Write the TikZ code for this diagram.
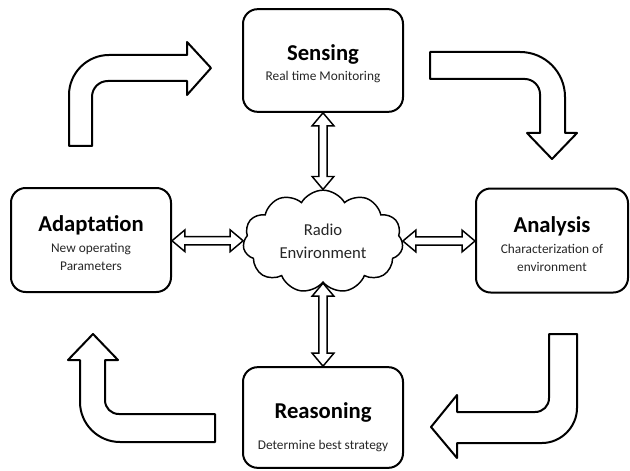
\documentclass[tikz,border=0pt]{standalone}
\usepackage{fontspec}
\setmainfont{Carlito}
\usetikzlibrary{shapes.symbols,shapes.arrows,calc}

\tikzset{every picture/.style={line width=0.75pt}}
\tikzset{
  stage/.style={draw, rounded corners=11pt, line width=1.5pt, align=center, inner sep=0pt,
    font=\fontsize{10}{13.5}\selectfont},
  bent/.style={draw, line width=1.5pt, line join=round},
  link/.style={double arrow, draw, line width=1.1pt, inner sep=2.6pt,
    double arrow head extend=5pt, double arrow tip angle=80, double arrow head indent=0pt}
}
\newcommand{\stagename}[1]{{\fontsize{17}{20}\selectfont\bfseries #1}}
\newcommand{\stagenote}[1]{{\color{black!85}#1}}

\begin{document}
\begin{tikzpicture}[x=0.75pt,y=0.75pt,yscale=-1,xscale=1]
\useasboundingbox (0,0) rectangle (630,470);
%Shape: Rounded Rect [id:sense]
\node (sense) [stage, minimum width=120pt, minimum height=77pt] at (323,60.5)
  {\rule{0pt}{17pt}\stagename{Sensing}\\[1.5pt]\stagenote{Real time Monitoring}};
%Shape: Rounded Rect [id:adapt]
\node (adapt) [stage, minimum width=120pt, minimum height=78pt] at (91,240)
  {\rule{0pt}{17pt}\stagename{Adaptation}\\[2.5pt]\stagenote{New operating}\\\stagenote{Parameters}};
%Shape: Rounded Rect [id:analyse]
\node (analyse) [stage, minimum width=114pt, minimum height=78pt] at (552,240.5)
  {\rule{0pt}{17pt}\stagename{Analysis}\\[2.5pt]\stagenote{Characterization of}\\\stagenote{environment}};
%Shape: Rounded Rect [id:reason]
\node (reason) [stage, minimum width=120pt, minimum height=75.5pt] at (323,417.5)
  {\rule{0pt}{26pt}\stagename{Reasoning}\\[9.5pt]\stagenote{Determine best strategy}};
%Shape: Cloud [id:radio]
\node (radio) [cloud, draw, line width=1.1pt, cloud puffs=11, cloud puff arc=120, aspect=1.55,
  minimum width=120pt, minimum height=77pt, inner sep=0pt, align=center,
  font=\fontsize{12.5}{17}\selectfont, text=black!85] at (323,241.5) {Radio\\Environment};

%Double Arrows
\path let \p1=(sense.south), \p2=(radio.north), \n1={veclen(\x2-\x1,\y2-\y1)} in
  node (up) [link, minimum height=\n1, rotate=90] at ($(\p1)!0.5!(\p2)$) {};
\path let \p1=(radio.south), \p2=(reason.north), \n1={veclen(\x2-\x1,\y2-\y1)} in
  node (down) [link, minimum height=\n1, rotate=90] at ($(\p1)!0.5!(\p2)$) {};
\path let \p1=(adapt.east), \p2=(radio.west), \n1={veclen(\x2-\x1,\y2-\y1)} in
  node (left) [link, minimum height=\n1] at ($(\p1)!0.5!(\p2)$) {};
\path let \p1=(radio.east), \p2=(analyse.west), \n1={veclen(\x2-\x1,\y2-\y1)} in
  node (right) [link, minimum height=\n1] at ($(\p1)!0.5!(\p2)$) {};

%Shape: Bent Arrow, up and right
\draw [bent] (69,146) -- (69,95) .. controls (69,73) and (87,55) .. (109,55) -- (187,55)
  -- (187,42) -- (211,68) -- (187,95) -- (187,81) -- (108,81)
  .. controls (99,81) and (92,88) .. (92,97) -- (92,146) -- cycle ;
%Shape: Bent Arrow, right and down
\draw [bent] (430,52) -- (520,52) .. controls (545,52) and (565,72) .. (565,97) -- (565,133)
  -- (577,133) -- (552,159) -- (527,133) -- (540,133) -- (540,94)
  .. controls (540,86) and (533,79) .. (525,79) -- (430,79) -- cycle ;
%Shape: Bent Arrow, down and left
\draw [bent] (549,334) -- (577,334) -- (577,408) .. controls (577,427) and (561,443) .. (542,443)
  -- (457,443) -- (457,458) -- (431,427) -- (457,395) -- (457,412) -- (535,412)
  .. controls (543,412) and (549,406) .. (549,398) -- cycle ;
%Shape: Bent Arrow, left and up
\draw [bent] (215,414) -- (119,414) .. controls (111,414) and (105,408) .. (105,400) -- (105,360)
  -- (118,360) -- (93,334) -- (68,360) -- (80,360) -- (80,402)
  .. controls (80,424) and (98,442) .. (120,442) -- (215,442) -- cycle ;
\end{tikzpicture}
\end{document}
